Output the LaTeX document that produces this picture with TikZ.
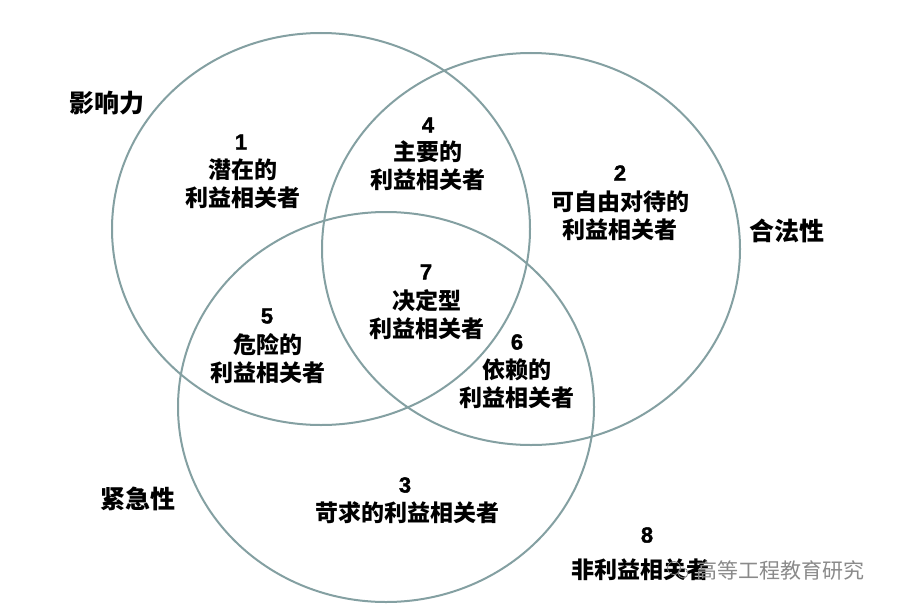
\documentclass[tikz,border=0pt]{standalone}
\usepackage{fontspec}
\newfontfamily\cjk{Noto Sans CJK SC}
\newfontfamily\numf{Liberation Sans}[UprightFont={* Bold}, UprightFeatures={FakeBold=1.5}]
\definecolor{ringc}{HTML}{84A0A2}
\definecolor{wmc}{HTML}{8A8A8A}
\tikzset{
  ring/.style={draw=ringc, line width=2pt},
  reg/.style={align=center, inner sep=0pt, font=\cjk\bfseries\fontsize{23}{28}\selectfont},
  num/.style={inner sep=0pt, font=\numf\mdseries\fontsize{22}{28}\selectfont},
  lbl/.style={inner sep=0pt, font=\cjk\bfseries\fontsize{25}{28}\selectfont},
  wm/.style={inner sep=0pt, text=wmc, font=\cjk\fontsize{21}{24}\selectfont}
}
\begin{document}
\begin{tikzpicture}[x=1pt,y=-1pt]
\useasboundingbox (0,0) rectangle (901,610);
\fill[white] (0,0) rectangle (901,610);
\draw[ring] (321,229) ellipse [x radius=209, y radius=196];
\draw[ring] (531,249) ellipse [x radius=209, y radius=196];
\draw[ring] (386,407) ellipse [x radius=208, y radius=195];
\node[lbl] (inf) at (107,103) {影响力};
\node[lbl] (leg) at (787,231) {合法性};
\node[lbl] (urg) at (138,499) {紧急性};
\node[num] (n1) at (241,142) {1};
\node[reg] (r1) at (243,184) {潜在的\\利益相关者};
\node[num] (n4) at (428,125) {4};
\node[reg] (r4) at (428,166) {主要的\\利益相关者};
\node[num] (n2) at (620,173) {2};
\node[reg] (r2) at (620,216) {可自由对待的\\利益相关者};
\node[num] (n7) at (426,272) {7};
\node[reg] (r7) at (427,315) {决定型\\利益相关者};
\node[num] (n5) at (267,316) {5};
\node[reg] (r5) at (268,359) {危险的\\利益相关者};
\node[num] (n6) at (517,342) {6};
\node[reg] (r6) at (517,384) {依赖的\\利益相关者};
\node[num] (n3) at (405,485) {3};
\node[reg] (r3) at (407,513) {苛求的利益相关者};
\node[num] (n8) at (647,535) {8};
\node[reg] (t8) at (640,570) {非利益相关者};
\draw[wmc, line width=0.8pt] (674,568) circle [radius=6.5];
\draw[wmc, line width=0.8pt] (683,573) circle [radius=5];
\node[wm, anchor=west] (wmark) at (696,570) {高等工程教育研究};
\end{tikzpicture}
\end{document}
